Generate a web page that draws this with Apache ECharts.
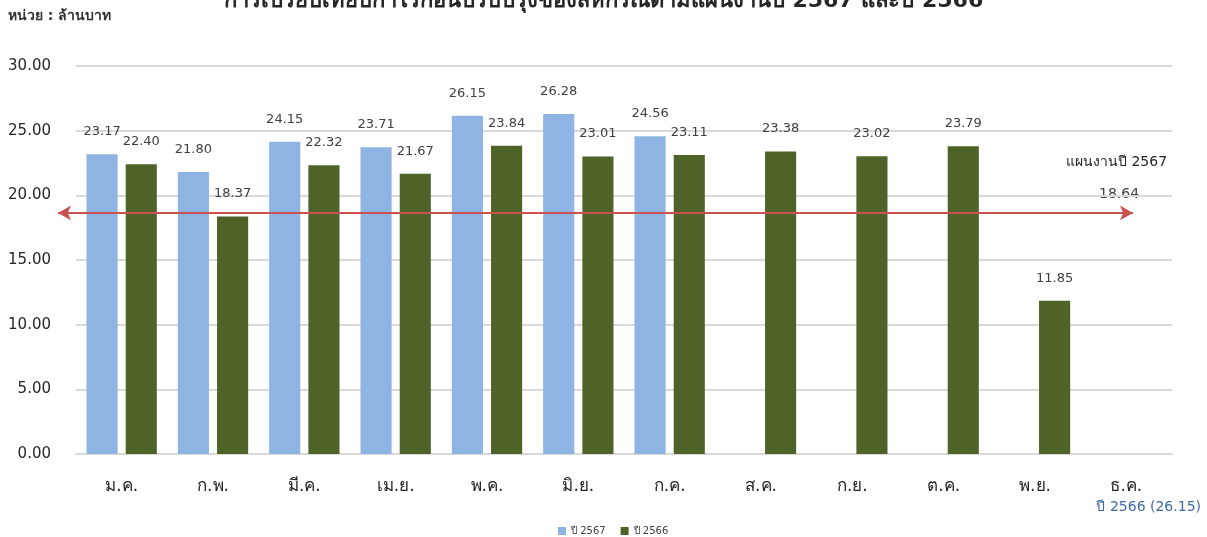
<!DOCTYPE html>
<html>
<head>
<meta charset="utf-8">
<script src="https://cdn.jsdelivr.net/npm/echarts@6/dist/echarts.min.js"></script>
<style>
  html, body { margin: 0; padding: 0; background: #fff; }
  #chart { width: 1207px; height: 537px; }
</style>
</head>
<body>
<div id="chart"></div>
<script>
// data
const months = ['ม.ค.', 'ก.พ.', 'มี.ค.', 'เม.ย.', 'พ.ค.', 'มิ.ย.', 'ก.ค.', 'ส.ค.', 'ก.ย.', 'ต.ค.', 'พ.ย.', 'ธ.ค.'];
const y2567 = [23.17, 21.80, 24.15, 23.71, 26.15, 26.28, 24.56, null, null, null, null, null];
const y2566 = [22.40, 18.37, 22.32, 21.67, 23.84, 23.01, 23.11, 23.38, 23.02, 23.79, 11.85, null];
const target2567 = 18.64;
const dec2566 = 26.15;

const BLUE = '#8EB4E3';
const GREEN = '#4F6228';
const RED = '#C9514E';
const FONT = '"DejaVu Sans", "Noto Sans", sans-serif';

const chart = echarts.init(document.getElementById('chart'));

const barLabel = {
  show: true,
  position: 'top',
  distance: 16,
  color: '#404040',
  fontSize: 13,
  fontFamily: FONT,
  formatter: p => (p.value == null ? '' : p.value.toFixed(2)),
};

chart.setOption({
  backgroundColor: '#fff',
  animation: false,
  textStyle: { fontFamily: FONT },
  title: {
    text: 'การเปรียบเทียบกำไรก่อนปรับปรุงของสหกรณ์ตามแผนงานปี 2567 และปี 2566',
    left: 'center',
    top: -15,
    textStyle: { fontSize: 22, fontWeight: 'bold', color: '#262626', fontFamily: FONT },
  },
  graphic: [
    {
      type: 'text', left: 8, top: 9,
      style: { text: 'หน่วย : ล้านบาท', fontSize: 14, fontWeight: 'bold', fill: '#333', fontFamily: FONT },
    },
    {
      type: 'text', left: 1066, top: 155,
      style: { text: 'แผนงานปี 2567', fontSize: 14, fill: '#262626', fontFamily: FONT },
    },
    {
      type: 'text', left: 1099, top: 187,
      style: { text: target2567.toFixed(2), fontSize: 14, fill: '#404040', fontFamily: FONT },
    },
    {
      type: 'text', right: 6, top: 500,
      style: { text: 'ปี 2566 (' + dec2566.toFixed(2) + ')', fontSize: 14, fill: '#3F6AA8', fontFamily: FONT },
    },
  ],
  legend: {
    bottom: -4,
    left: 553,
    itemWidth: 8,
    itemHeight: 8,
    itemGap: 15,
    icon: 'rect',
    textStyle: { fontSize: 10, color: '#404040' },
    data: ['ปี 2567', 'ปี 2566'],
  },
  grid: [
    { left: 76, right: 35, top: 66, bottom: 83 },
    { left: 58, right: 74, top: 66, bottom: 83 },
  ],
  xAxis: [
    {
      type: 'category',
      data: months,
      gridIndex: 0,
      axisLine: { lineStyle: { color: '#D9D9D9', width: 2 } },
      axisTick: { show: false },
      axisLabel: { color: '#262626', fontSize: 17, margin: 24 },
    },
    { type: 'value', gridIndex: 1, min: 0, max: 1, show: false },
  ],
  yAxis: [
    {
      type: 'value',
      gridIndex: 0,
      min: 0,
      max: 30,
      interval: 5,
      axisLine: { show: false },
      axisTick: { show: false },
      splitLine: { lineStyle: { color: '#D9D9D9', width: 2 } },
      axisLabel: { color: '#262626', fontSize: 15, margin: 25, formatter: v => v.toFixed(2) },
    },
    { type: 'value', gridIndex: 1, min: 0, max: 30, show: false },
  ],
  series: [
    {
      name: 'ปี 2567',
      type: 'bar',
      data: y2567,
      itemStyle: { color: BLUE },
      barGap: '26%',
      barCategoryGap: '23%',
      label: barLabel,
    },
    {
      name: 'ปี 2566',
      type: 'bar',
      data: y2566,
      itemStyle: { color: GREEN },
      label: barLabel,
    },
    {
      name: 'แผนงาน',
      type: 'line',
      xAxisIndex: 1,
      yAxisIndex: 1,
      data: [[0, target2567], [1, target2567]],
      symbol: 'none',
      lineStyle: { opacity: 0 },
      silent: true,
      markLine: {
        silent: true,
        symbol: ['arrow', 'arrow'],
        symbolSize: [11, 13],
        label: { show: false },
        lineStyle: { color: RED, width: 2, type: 'solid' },
        data: [[{ coord: [0, target2567] }, { coord: [1, target2567] }]],
      },
    },
  ],
});
</script>
</body>
</html>
